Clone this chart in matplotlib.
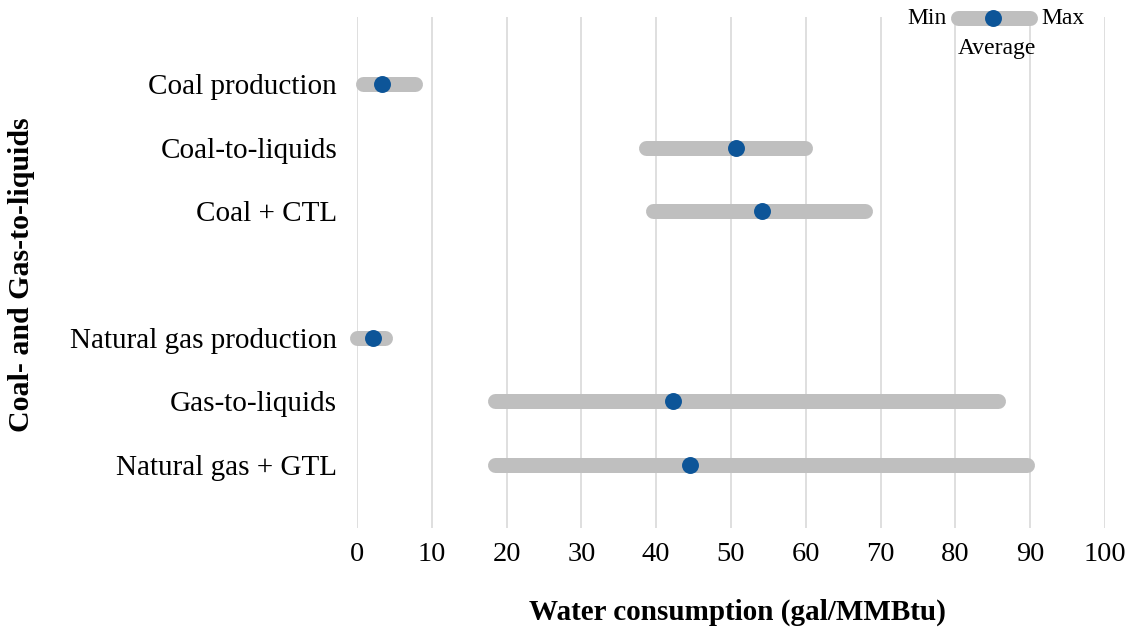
import matplotlib.pyplot as plt
import numpy as np

# water consumption ranges, gal/MMBtu
coal_labels = ["Coal production", "Coal-to-liquids", "Coal + CTL"]
coal_min = [0.8, 38.6, 39.6]
coal_max = [7.8, 59.9, 67.9]
coal_avg = [3.3, 50.7, 54.1]

gas_labels = ["Natural gas production", "Gas-to-liquids", "Natural gas + GTL"]
gas_min = [0.0, 18.5, 18.5]
gas_max = [3.8, 85.7, 89.6]
gas_avg = [2.2, 42.2, 44.5]

x_ticks = [0, 10, 20, 30, 40, 50, 60, 70, 80, 90, 100]

plt.rcParams['font.family'] = ['Liberation Serif', 'DejaVu Serif']

bar_col = '#bfbfbf'
dot_col = '#0d5598'

fig = plt.figure(figsize=(11.33, 6.34), dpi=100)
ax = fig.add_axes([0.3151, 0.1672, 0.9753 - 0.3151, 0.9732 - 0.1672])

labels = coal_labels + gas_labels
mins = coal_min + gas_min
maxs = coal_max + gas_max
avgs = coal_avg + gas_avg
# empty slot between the two groups
ypos = list(range(len(coal_labels))) + [len(coal_labels) + 1 + i for i in range(len(gas_labels))]

for y, lo, hi, av in zip(ypos, mins, maxs, avgs):
    ax.plot([lo, hi], [y, y], color=bar_col, lw=10.8, solid_capstyle='round', clip_on=False, zorder=2)
    ax.plot([av], [y], 'o', color=dot_col, ms=12.2, mec='none', clip_on=False, zorder=3)

# legend sample drawn in the top right corner
ly = -1.04
ax.plot([80.3, 90], [ly, ly], color=bar_col, lw=10.8, solid_capstyle='round', clip_on=False, zorder=4)
ax.plot([85], [ly], 'o', color=dot_col, ms=12.2, mec='none', clip_on=False, zorder=5)
ax.text(78.8, ly, "Min", ha='right', va='center', fontsize=17)
ax.text(91.5, ly, "Max", ha='left', va='center', fontsize=17)
ax.text(85.6, -0.57, "Average", ha='center', va='center', fontsize=17)

ax.set_xlim(0, 100)
ax.set_ylim(7.0, -1.06)
ax.set_xticks(x_ticks)
ax.set_xticklabels([str(t) for t in x_ticks], fontsize=20.5)
ax.set_yticks(ypos)
ax.set_yticklabels(labels, fontsize=21)
ax.tick_params(axis='both', length=0)
ax.tick_params(axis='x', pad=10)
ax.tick_params(axis='y', pad=14.4)
ax.grid(axis='x', color='#d9d9d9', lw=1.2, zorder=0)
ax.set_axisbelow(True)
for s in ax.spines.values():
    s.set_visible(False)

fig.text(737 / 1133, 1 - 612 / 634, "Water consumption (gal/MMBtu)", ha='center', va='center',
         fontsize=21, fontweight='bold')
fig.text(22 / 1133, 1 - 275 / 634, "Coal- and Gas-to-liquids", rotation=90, ha='center', va='center',
         fontsize=21.5, fontweight='bold')

fig.savefig('out.png', dpi=100)
